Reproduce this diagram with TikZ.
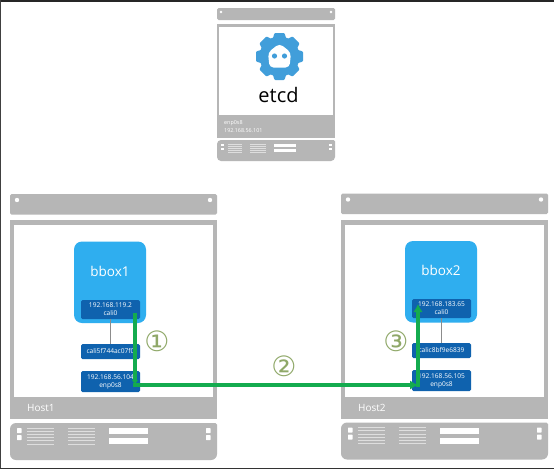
\documentclass[tikz,border=0pt]{standalone}
\usepackage{fontspec}
\setmainfont{Open Sans}
\newfontfamily\symfont{DejaVu Sans}
\usetikzlibrary{arrows.meta}
\definecolor{rack}{HTML}{B6B6B6}
\definecolor{darkblue}{HTML}{0F62AE}
\definecolor{lightblue}{HTML}{2FAEEF}
\definecolor{etcdblue}{HTML}{419EDA}
\definecolor{flow}{HTML}{14AB4F}
\definecolor{numc}{HTML}{8FA868}
\tikzset{
  x=1pt,y=-1pt,
  rackpart/.style={fill=rack,draw=none,rounded corners=1.5pt},
  inner/.style={fill=white,draw=none},
  boxb/.style={fill=lightblue,draw=none,rounded corners=8pt,minimum width=72pt,minimum height=81.5pt,inner sep=0pt},
  ifc/.style={fill=darkblue,draw=none,rounded corners=1.5pt,minimum width=59pt,inner sep=0pt,text=white,font=\fontsize{6.6}{8.2}\selectfont,align=center},
  hostlabel/.style={text=white,font=\fontsize{10}{12}\selectfont,inner sep=0pt,anchor=west},
  boxlabel/.style={text=white,font=\fontsize{13.5}{16}\selectfont,inner sep=0pt},
  numlabel/.style={text=numc,font=\symfont\fontsize{28}{30}\selectfont,inner sep=0pt},
  link/.style={draw=black!45!white,line width=0.5pt},
  flowline/.style={draw=flow,line width=3.2pt,-{Latex[length=8pt,width=9.5pt]}},
}
\newcommand{\rackpanel}[3]{%
  \begin{scope}[shift={(#1,#2)}]
    \fill[rackpart] (0,0) rectangle (207,20.5);
    \fill[white] (7,6) circle (2.2);
    \fill[white] (200,6) circle (2.2);
    \fill[rack] (0,26) rectangle (207,225);
    \fill[inner] (4,31) rectangle (203,203);
    \fill[rack,rounded corners=1.5pt] (0,229) -- (207,229) [rounded corners=6pt] -- (207,266) -- (0,266) -- cycle;
    \fill[white,rounded corners=0.5pt] (7,234) rectangle (11.5,239);
    \fill[white,rounded corners=0.5pt] (7,241) rectangle (11.5,246);
    \fill[white,rounded corners=0.5pt] (196,234) rectangle (200.5,239);
    \fill[white,rounded corners=0.5pt] (196,241) rectangle (200.5,246);
    \foreach \yy in {234,237.2,240.4,243.6,246.8,250}{
      \draw[white!55!rack,line width=0.8pt] (17,\yy) -- (44,\yy);
      \draw[white!55!rack,line width=0.8pt] (58,\yy) -- (85,\yy);
    }
    \fill[white] (99,234) rectangle (138,240);
    \fill[white] (99,244) rectangle (138,250);
  \end{scope}
}
\begin{document}
\begin{tikzpicture}
\useasboundingbox (0,0) rectangle (554,469);
\fill[white] (0,0) rectangle (554,469);
\fill[black!85] (0,0) rectangle (554,1.5);
\fill[black!75] (0,0) rectangle (1,469);
\fill[black!80] (0,467.5) rectangle (554,469);

% etcd server
\fill[rackpart] (217,8) rectangle (335,20);
\fill[white] (221,12) circle (1.4);
\fill[white] (331,12) circle (1.4);
\fill[rack] (217,24) rectangle (335,138);
\fill[inner] (219,27) rectangle (333,115);
\fill[rack,rounded corners=1.5pt] (217,140) -- (335,140) [rounded corners=4pt] -- (335,161) -- (217,161) -- cycle;
\foreach \xx in {221,329}{
  \fill[white] (\xx,143.5) rectangle +(2.6,2.6);
  \fill[white] (\xx,147.5) rectangle +(2.6,2.6);
}
\foreach \yy in {144,146,148,150,152}{
  \draw[white!55!rack,line width=0.5pt] (228,\yy) -- (242,\yy);
  \draw[white!55!rack,line width=0.5pt] (250,\yy) -- (266,\yy);
}
\fill[white] (274,143.5) rectangle (296,147);
\fill[white] (274,149) rectangle (296,152);
\node[text=white,font=\fontsize{5.4}{8.5}\selectfont,align=left,inner sep=0pt,anchor=west] (etcdinfo) at (224,126.5) {enp0s8\\192.168.56.101};

% etcd logo
\begin{scope}[shift={(279.5,56.5)}]
  \foreach \a in {0,45,...,315}{
    \fill[etcdblue,rotate=\a,rounded corners=1pt] (-7,-17) -- (-5,-23.5) -- (5,-23.5) -- (7,-17) -- cycle;
  }
  \fill[etcdblue] (0,0) circle (20);
  \fill[white,rounded corners=4pt] (-11.5,-4) -- (0,-13) -- (11.5,-4) -- (10,11) -- (-10,11) -- cycle;
  \fill[etcdblue] (-5,-0.5) circle (2.6);
  \fill[etcdblue] (5,-0.5) circle (2.6);
\end{scope}
\node[text=black,font=\fontsize{20}{22}\selectfont,inner sep=0pt] (etcdname) at (278.5,95) {etcd};

% host panels
\rackpanel{10}{194}{}
\rackpanel{341}{193.5}{}
\node[hostlabel] (host1) at (27,408) {Host1};
\node[hostlabel] (host2) at (358,407.5) {Host2};

% Host 1 contents
\node[boxb] (bbox1) at (110,282.25) {};
\node[boxlabel] (bbox1name) at (110,271) {bbox1};
\node[ifc,minimum height=19pt] (h1call) at (110.5,309.5) {192.168.119.2\\cali0};
\node[ifc,minimum height=15pt] (h1veth) at (110.5,351.5) {cali5f744ac07f0};
\node[ifc,minimum height=21pt] (h1enp) at (110.5,381.5) {192.168.56.104\\enp0s8};
\draw[link] (h1call) -- (h1veth);

% Host 2 contents
\node[boxb] (bbox2) at (441,281.75) {};
\node[boxlabel] (bbox2name) at (441,270.5) {bbox2};
\node[ifc,minimum height=19pt] (h2call) at (441.5,308.5) {192.168.183.65\\cali0};
\node[ifc,minimum height=15pt] (h2veth) at (441.5,350.5) {calic8bf9e6839};
\node[ifc,minimum height=21pt] (h2enp) at (441.5,380.5) {192.168.56.105\\enp0s8};
\draw[link] (h2call) -- (h2veth);

% flow
\coordinate (a) at (135,313);
\coordinate (b) at (135,385);
\coordinate (c) at (133.4,385);
\coordinate (d) at (418,385);
\coordinate (e) at (418,386.6);
\coordinate (f) at (418,304);
\draw[draw=flow,line width=3.2pt,-{Latex[length=5pt,width=6.5pt]}] (a) -- (b);
\draw[flowline] (c) -- (d);
\draw[flowline] (e) -- (f);

\node[numlabel] (n1) at (157,341) {①};
\node[numlabel] (n2) at (284,366) {②};
\node[numlabel] (n3) at (396,341) {③};
\end{tikzpicture}
\end{document}
